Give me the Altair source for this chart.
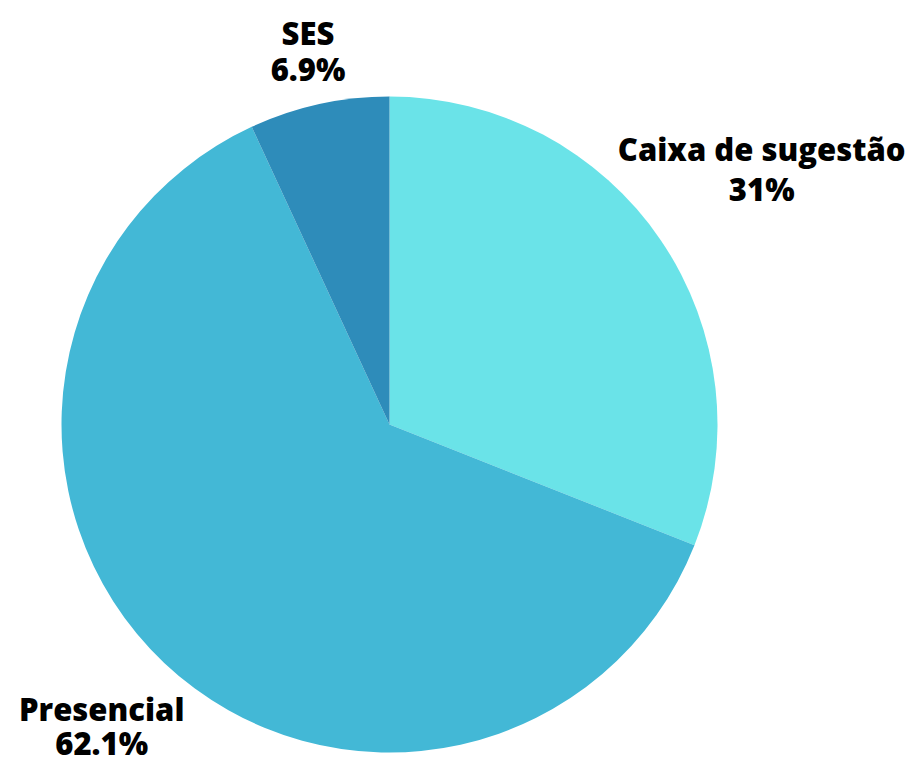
import altair as alt
import pandas as pd

categories = ["Caixa de sugestão", "Presencial", "SES"]
values = [31.0, 62.1, 6.9]
value_labels = ["31%", "62.1%", "6.9%"]
colors = ["#6AE3E8", "#43B8D6", "#2E8CBA"]

df = pd.DataFrame({
    "categoria": categories,
    "valor": values,
    "rotulo": value_labels,
    "ordem": list(range(len(categories))),
})

CX, CY, R = 389.5, 424.5, 328

base = alt.Chart(df).encode(
    theta=alt.Theta("valor:Q", stack=True),
    order=alt.Order("ordem:Q"),
)

arc = base.mark_arc(outerRadius=R, stroke=None).encode(
    x=alt.value(CX),
    y=alt.value(CY),
    color=alt.Color("categoria:N",
                    scale=alt.Scale(domain=categories, range=colors),
                    legend=None),
)

label_style = {
    "Caixa de sugestão": (450, 40),
    "Presencial": (419, 34),
    "SES": (379, 36),
}

layers = [arc]
for cat in categories:
    rad, lh = label_style[cat]
    layers.append(
        base.transform_calculate(
            txt="datum.categoria + '\\n' + datum.rotulo"
        ).mark_text(
            font="Open Sans",
            fontWeight=800,
            fontSize=31,
            color="black",
            align="center",
            baseline="middle",
            lineBreak="\n",
            lineHeight=lh,
            dy=-lh / 2,
        ).encode(
            x=alt.value(CX),
            y=alt.value(CY),
            radius=alt.value(rad),
            text="txt:N",
            opacity=alt.condition(f"datum.categoria == '{cat}'", alt.value(1), alt.value(0)),
        )
    )

chart = alt.layer(*layers).properties(
    width=912, height=760,
    autosize=alt.AutoSizeParams(type="none"),
    padding=0,
    background="white",
).configure_view(stroke=None)

chart.save("out.html", embed_options={"renderer": "svg", "actions": False})
